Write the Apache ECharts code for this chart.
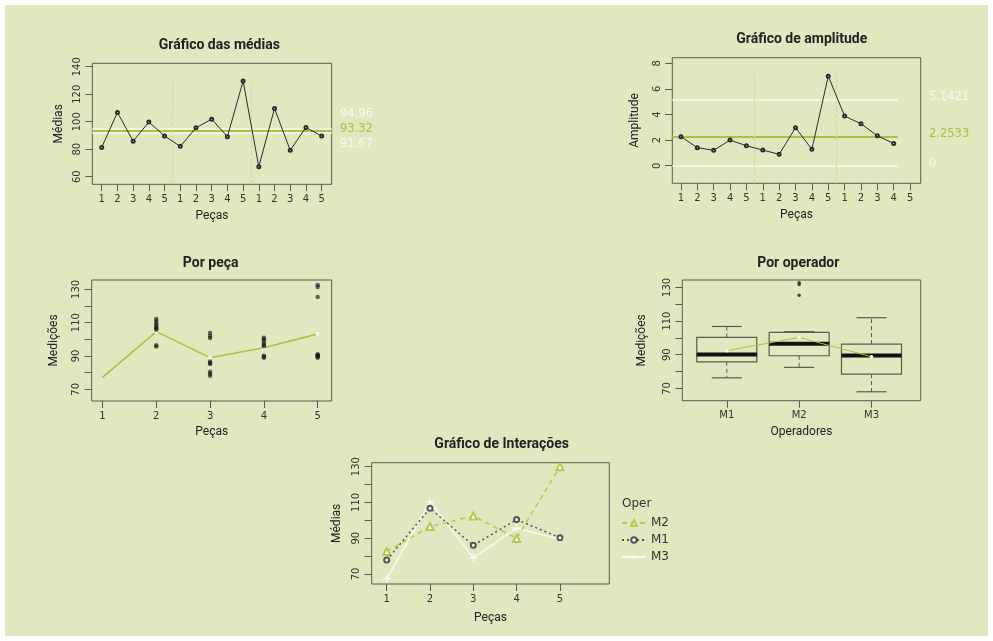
<!DOCTYPE html>
<html><head><meta charset="utf-8">
<script src="https://cdn.jsdelivr.net/npm/echarts@6/dist/echarts.min.js"></script>
<style>
html,body{margin:0;padding:0;background:#ffffff;}
#c{position:absolute;left:5px;top:5px;width:983px;height:631px;background:#e2e7c0;}
</style></head><body><div id="c"></div>
<script>
// ---------------- data ----------------
const partLabels = ['1','2','3','4','5'];
const operators = ['M1','M2','M3'];
// Gráfico das médias: 15 subgroups (M1 p1..p5, M2 p1..p5, M3 p1..p5)
const meanValues = [81.3,106.8,85.9,99.8,89.6, 82.1,95.6,101.9,89.1,129.6, 67.3,109.7,79.2,95.9,89.6];
const meanLimits = [94.96, 93.32, 91.67];
// Gráfico de amplitude
const rangeValues = [2.27,1.41,1.20,2.00,1.56, 1.22,0.89,2.97,1.28,7.00, 3.88,3.28,2.34,1.74];
const rangeLimits = [5.1421, 2.2533, 0];
const groupBreaks = [5.5, 10.5];
// Por peça
const pieceMeans = [77.2,104.6,89.0,95.0,103.2];
const piece2 = [105.8,106.5,107.3,108.4,109.6,111.0,112.2,95.7,96.4];
const piece3 = [100.8,102.0,103.8,86.7,85.8,85.2,80.6,79.3,78.2];
const piece4 = [101.0,100.0,99.0,97.5,96.6,95.8,90.2,89.5,89.0];
const piece5 = [132.6,131.4,125.4,91.0,90.3,89.6,90.6,89.8,89.0];
// Por operador: [min, q1, median, q3, max]
const boxM1 = [76.3,85.8,90.2,100.3,106.8];
const boxM2 = [82.5,89.4,96.5,103.3,103.7];
const boxM3 = [68.0,78.5,89.6,96.3,112.0];
const outliersM2 = [132.8,131.8,125.4];
const operatorMeans = [92.4,100.3,88.8];
// Gráfico de Interações
const interM2 = [82.5,96.5,102.4,89.9,130.0];
const interM1 = [77.8,106.7,86.0,100.4,90.3];
const interM3 = [67.3,110.4,79.1,95.5,89.4];

// ---------------- style/layout ----------------
const O = 5; // container offset
const GREEN = '#a9c23f', WHITE = '#f7f8ee', DASH = '#d2db98', FRAME = '#5a5a52', INK = '#2a2a2a';
const TICKF = 'DejaVu Sans';
const NAMEF = 'Roboto';
const chart = echarts.init(document.getElementById('c'), null, {renderer:'canvas'});

function grid(l,t,r,b){ return {left:l-O, top:t-O, width:r-l, height:b-t, show:true, borderColor:FRAME, borderWidth:1, backgroundColor:'transparent', containLabel:false}; }
function xAx(g,min,max,ticks,fmt,name,gap){
  return {type:'value', gridIndex:g, min, max,
    axisLine:{show:false, onZero:false}, splitLine:{show:false},
    axisTick:{show:true, length:7, customValues:ticks, lineStyle:{color:FRAME}},
    axisLabel:{customValues:ticks, formatter:fmt, margin:10, fontSize:10, color:'#333', fontFamily:TICKF},
    name, nameLocation:'middle', nameGap:gap,
    nameTextStyle:{fontFamily:NAMEF, fontSize:12, color:'#222'}};
}
function yAx(g,min,max,ticks,labels,name,gap){
  return {type:'value', gridIndex:g, min, max,
    axisLine:{show:false, onZero:false}, splitLine:{show:false},
    axisTick:{show:true, length:7, customValues:ticks, lineStyle:{color:FRAME}},
    axisLabel:{customValues:labels, rotate:90, margin:10, fontSize:10, color:'#333', fontFamily:TICKF},
    name, nameLocation:'middle', nameGap:gap, nameRotate:90,
    nameTextStyle:{fontFamily:NAMEF, fontSize:12, color:'#222'}};
}
function title(text,x,y){ return {text, left:x-O, top:y-O-9, textAlign:'center',
  textStyle:{fontFamily:NAMEF, fontWeight:'bold', fontSize:14, color:'#222'}}; }

const idx15 = meanValues.map((v,i)=>i+1);
const fmt15 = v => partLabels[(v-1)%5];

function vline(x,y0,y1){ return [{coord:[x,y0], lineStyle:{color:DASH, type:'dashed', width:1.2}},{coord:[x,y1]}]; }

const g1 = {min:0.40,max:15.64,ymin:54.5,ymax:142.5};
const g2 = {min:0.47,max:15.65,ymin:-1.375,ymax:8.44};
const g3 = {min:0.80,max:5.26,ymin:63,ymax:135.6};
const g4 = {min:0.385,max:3.68,ymin:62.7,ymax:134.4};
const g5 = {min:0.654,max:6.14,ymin:64.4,ymax:132.2};

const piecePts = [];
[[2,piece2],[3,piece3],[4,piece4],[5,piece5]].forEach(([p,arr])=>arr.forEach(v=>piecePts.push([p,v])));

const boxes = [boxM1,boxM2,boxM3].map((s,i)=>[i+1].concat(s));
const BOXW = 0.83;

const plus = 'path://M4,0H6V4H10V6H6V10H4V6H0V4H4Z';

const option = {
  animation:false,
  backgroundColor:'transparent',
  title:[
    title('Gráfico das médias',214.3,42.7),
    title('Gráfico de amplitude',796.7,36),
    title('Por peça',205.7,260.7),
    title('Por operador',793.3,260.7),
    title('Gráfico de Interações',496.7,441.7),
    {text:'Oper', left:617-O, top:500.7-O-8, textStyle:{fontFamily:TICKF, fontSize:12, fontWeight:'normal', color:'#333'}}
  ],
  grid:[
    grid(92.3,63.3,331.7,184.3),
    grid(672.3,57.7,920.7,183.3),
    grid(91.7,280,331.7,401),
    grid(682.3,280,920.7,400.7),
    grid(371.7,462.7,609.3,584)
  ],
  xAxis:[
    xAx(0,g1.min,g1.max,idx15,fmt15,'Peças',26),
    xAx(1,g2.min,g2.max,idx15,fmt15,'Peças',26),
    xAx(2,g3.min,g3.max,[1,2,3,4,5],v=>partLabels[v-1],'Peças',25),
    xAx(3,g4.min,g4.max,[1,2,3],v=>operators[v-1],'Operadores',25),
    xAx(4,g5.min,g5.max,[1,2,3,4,5],v=>partLabels[v-1],'Peças',28)
  ],
  yAxis:[
    yAx(0,g1.ymin,g1.ymax,[60,80,100,120,140],[60,80,100,120,140],'Médias',27),
    yAx(1,g2.ymin,g2.ymax,[0,2,4,6,8],[0,2,4,6,8],'Amplitude',31),
    yAx(2,g3.ymin,g3.ymax,[70,80,90,100,110,120,130],[70,90,110,130],'Medições',32),
    yAx(3,g4.ymin,g4.ymax,[70,80,90,100,110,120,130],[70,90,110,130],'Medições',34),
    yAx(4,g5.ymin,g5.ymax,[70,80,90,100,110,120,130],[70,90,110,130],'Médias',29)
  ],
  legend:{
    data:['M2','M1','M3'], orient:'vertical', left:616-O, top:512-O,
    itemWidth:24, itemHeight:7, itemGap:5,
    textStyle:{fontFamily:TICKF, fontSize:12, color:'#333'}
  },
  graphic:[
    {type:'text', x:340-O, y:114-O, style:{text:meanLimits[0].toFixed(2), fill:WHITE, font:'11.5px DejaVu Sans', verticalAlign:'middle'}},
    {type:'text', x:340-O, y:129.3-O, style:{text:meanLimits[1].toFixed(2), fill:GREEN, font:'11.5px DejaVu Sans', verticalAlign:'middle'}},
    {type:'text', x:340-O, y:143.7-O, style:{text:meanLimits[2].toFixed(2), fill:WHITE, font:'11.5px DejaVu Sans', verticalAlign:'middle'}},
    {type:'text', x:929-O, y:97.5-O, style:{text:String(rangeLimits[0]), fill:WHITE, font:'11.5px DejaVu Sans', verticalAlign:'middle'}},
    {type:'text', x:929-O, y:134.5-O, style:{text:String(rangeLimits[1]), fill:GREEN, font:'11.5px DejaVu Sans', verticalAlign:'middle'}},
    {type:'text', x:929-O, y:164-O, style:{text:String(rangeLimits[2]), fill:WHITE, font:'11.5px DejaVu Sans', verticalAlign:'middle'}}
  ],
  series:[
    // Chart 1
    {type:'line', name:'medias', xAxisIndex:0, yAxisIndex:0,
      data:meanValues.map((v,i)=>[i+1,v]),
      lineStyle:{color:INK,width:1}, symbol:'emptyCircle', symbolSize:3,
      itemStyle:{color:INK, borderColor:INK, borderWidth:0.8}, z:5,
      markLine:{silent:true, symbol:['none','none'], label:{show:false},
        data:[
          {yAxis:meanLimits[0], lineStyle:{color:WHITE,width:1.5,type:'solid'}},
          {yAxis:meanLimits[2], lineStyle:{color:WHITE,width:1.5,type:'solid'}},
          {yAxis:meanLimits[1], lineStyle:{color:GREEN,width:2,type:'solid'}},
          vline(groupBreaks[0],g1.ymin,131), vline(groupBreaks[1],g1.ymin,131)
        ]}
    },
    // Chart 2
    {type:'line', name:'amplitude', xAxisIndex:1, yAxisIndex:1,
      data:rangeValues.map((v,i)=>[i+1,v]),
      lineStyle:{color:INK,width:1}, symbol:'emptyCircle', symbolSize:3,
      itemStyle:{color:INK, borderColor:INK, borderWidth:0.8}, z:5,
      markLine:{silent:true, symbol:['none','none'], label:{show:false},
        data:[
          [{coord:[g2.min,rangeLimits[0]], lineStyle:{color:WHITE,width:1.5,type:'solid'}},{coord:[14.25,rangeLimits[0]]}],
          [{coord:[g2.min,rangeLimits[2]], lineStyle:{color:WHITE,width:1.5,type:'solid'}},{coord:[14.25,rangeLimits[2]]}],
          [{coord:[g2.min,rangeLimits[1]], lineStyle:{color:GREEN,width:1.8,type:'solid'}},{coord:[14.25,rangeLimits[1]]}],
          vline(groupBreaks[0],g2.ymin,7.2), vline(groupBreaks[1],g2.ymin,7.2)
        ]}
    },
    // Chart 3
    {type:'line', name:'mediaPeca', xAxisIndex:2, yAxisIndex:2,
      data:pieceMeans.map((v,i)=> i===0 ? {value:[i+1,v], symbol:'none'} : [i+1,v]),
      lineStyle:{color:GREEN,width:1.5}, symbol:'circle', symbolSize:4,
      itemStyle:{color:WHITE}, z:4},
    {type:'scatter', name:'pontos', xAxisIndex:2, yAxisIndex:2, data:piecePts,
      symbol:'circle', symbolSize:4.5, itemStyle:{color:'rgba(25,25,25,0.8)'}, z:5},
    // Chart 4
    {type:'custom', name:'box', xAxisIndex:3, yAxisIndex:3, data:boxes,
      encode:{x:0, y:[1,2,3,4,5]},
      renderItem:function(params, api){
        const x = api.value(0);
        const c = api.coord([x, api.value(3)]);
        const cx = c[0], ymed = c[1];
        const ylo = api.coord([x, api.value(1)])[1];
        const yq1 = api.coord([x, api.value(2)])[1];
        const yq3 = api.coord([x, api.value(4)])[1];
        const yhi = api.coord([x, api.value(5)])[1];
        const hw = api.size([BOXW,0])[0]/2;
        const st = {stroke:FRAME, lineWidth:1.2};
        const dash = {stroke:FRAME, lineWidth:1, lineDash:[4,3]};
        return {type:'group', children:[
          {type:'line', shape:{x1:cx,y1:yq3,x2:cx,y2:yhi}, style:dash},
          {type:'line', shape:{x1:cx,y1:yq1,x2:cx,y2:ylo}, style:dash},
          {type:'line', shape:{x1:cx-hw/2,y1:yhi,x2:cx+hw/2,y2:yhi}, style:st},
          {type:'line', shape:{x1:cx-hw/2,y1:ylo,x2:cx+hw/2,y2:ylo}, style:st},
          {type:'rect', shape:{x:cx-hw,y:yq3,width:2*hw,height:yq1-yq3}, style:{fill:'none',stroke:FRAME,lineWidth:1.2}},
          {type:'line', shape:{x1:cx-hw,y1:ymed,x2:cx+hw,y2:ymed}, style:{stroke:'#111',lineWidth:4}}
        ]};
      }, z:3},
    {type:'scatter', name:'outliers', xAxisIndex:3, yAxisIndex:3,
      data:outliersM2.map(v=>[2,v]), symbol:'circle', symbolSize:3.5, itemStyle:{color:'#222'}, z:5},
    {type:'line', name:'mediaOper', xAxisIndex:3, yAxisIndex:3,
      data:operatorMeans.map((v,i)=>[i+1,v]),
      lineStyle:{color:GREEN,width:1}, symbol:'circle', symbolSize:3.5, itemStyle:{color:WHITE}, z:4},
    // Chart 5
    {type:'line', name:'M2', xAxisIndex:4, yAxisIndex:4, data:interM2.map((v,i)=>[i+1,v]),
      lineStyle:{color:'#b4ca52',width:1.5,type:[5,4]}, symbol:'emptyTriangle', symbolSize:7,
      itemStyle:{color:'#b4ca52', borderColor:'#b4ca52', borderWidth:1}, z:4},
    {type:'line', name:'M1', xAxisIndex:4, yAxisIndex:4, data:interM1.map((v,i)=>[i+1,v]),
      lineStyle:{color:'#555',width:1.5,type:[2,3]}, symbol:'emptyCircle', symbolSize:5,
      itemStyle:{color:'#555', borderColor:'#555', borderWidth:0.8}, z:5},
    {type:'line', name:'M3', xAxisIndex:4, yAxisIndex:4, data:interM3.map((v,i)=>[i+1,v]),
      lineStyle:{color:WHITE,width:1.5}, symbol:plus, symbolSize:8,
      itemStyle:{color:WHITE}, z:3}
  ]
};
chart.setOption(option);
</script></body></html>
